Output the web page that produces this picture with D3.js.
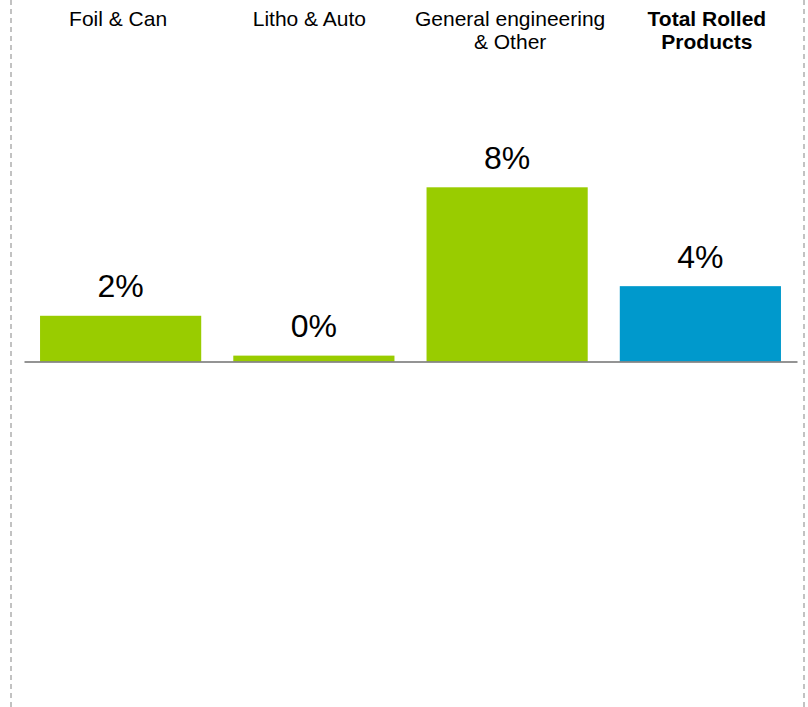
<!DOCTYPE html>
<html>
<head>
<meta charset="utf-8">
<script src="https://cdn.jsdelivr.net/npm/d3@7"></script>
<style>
  html, body { margin: 0; padding: 0; background: #fff; }
  svg { display: block; }
  text { font-family: "Liberation Sans", Arial, Helvetica, sans-serif; fill: #000; }
</style>
</head>
<body>
<svg id="chart" width="808" height="707"></svg>
<script>
// ---- data ----
const categories = ["Foil & Can", "Litho & Auto", "General engineering\n& Other", "Total Rolled\nProducts"];
const values = [2.1, 0.27, 8.0, 3.46];
const valueLabels = ["2%", "0%", "8%", "4%"];
const isTotal = [false, false, false, true];

const svg = d3.select("#chart");
const W = 808, H = 707;

// layout: small horizontal nudges of the header labels
const labelNudge = [-2.5, -4.5, 3, 6.5];

// dashed frame sides
[11, 804].forEach(px => {
  svg.append("line").attr("x1", px).attr("x2", px).attr("y1", 0).attr("y2", H)
    .attr("stroke", "#b3b3b3").attr("stroke-width", 1.6).attr("stroke-dasharray", "5,4");
});

const x = d3.scaleBand().domain(categories).range([24, 797])
  .paddingInner(0.166).paddingOuter(0.083);
const y = d3.scaleLinear().domain([0, 8]).range([361.5, 187.3]);

const data = categories.map((c, i) => ({c, i, v: values[i], lbl: valueLabels[i], total: isTotal[i]}));

svg.selectAll("rect.bar").data(data).join("rect")
  .attr("class", "bar")
  .attr("x", d => x(d.c))
  .attr("width", x.bandwidth())
  .attr("y", d => y(d.v))
  .attr("height", d => y(0) - y(d.v))
  .attr("fill", d => d.total ? "#0099cc" : "#99cc00");

// baseline axis
const axis = d3.axisBottom(x).tickSize(0).tickFormat("");
const g = svg.append("g").attr("transform", `translate(0,${y(0)})`).call(axis);
g.select(".domain").attr("stroke", "#707070").attr("stroke-width", 1.5);

// value labels
svg.selectAll("text.val").data(data).join("text")
  .attr("class", "val")
  .attr("x", d => x(d.c) + x.bandwidth() / 2)
  .attr("y", d => y(d.v) - 18.5)
  .attr("text-anchor", "middle")
  .style("font-size", "32px")
  .text(d => d.lbl);

// category labels
const cat = svg.selectAll("text.cat").data(data).join("text")
  .attr("class", "cat")
  .attr("text-anchor", "middle")
  .style("font-size", "21px")
  .style("font-weight", d => d.total ? "bold" : "normal");
cat.each(function(d) {
  const lines = d.c.split("\n");
  const t = d3.select(this);
  lines.forEach((ln, i) => {
    t.append("tspan")
      .attr("x", x(d.c) + x.bandwidth() / 2 + labelNudge[d.i])
      .attr("y", 26 + i * 22.5)
      .text(ln);
  });
});
</script>
</body>
</html>
